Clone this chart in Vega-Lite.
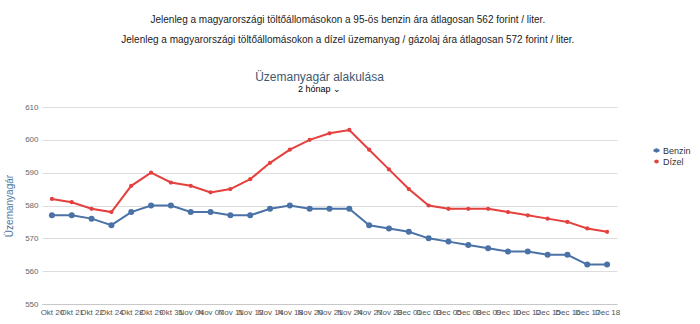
{
  "$schema": "https://vega.github.io/schema/vega-lite/v6.json",
  "background": "white",
  "padding": {"left": 4, "top": 15, "right": 0, "bottom": 0},
  "config": {"font": "Liberation Sans", "view": {"stroke": null}},
  "title": {
    "text": ["Jelenleg a magyarországi töltőállomásokon a 95-ös benzin ára átlagosan 562 forint / liter.", "Jelenleg a magyarországi töltőállomásokon a dízel üzemanyag / gázolaj ára átlagosan 572 forint / liter."],
    "font": "Liberation Sans", "fontSize": 10, "fontWeight": "normal", "color": "#222222",
    "lineHeight": 20, "anchor": "middle", "offset": 26
  },
  "vconcat": [
    {
      "width": 575,
      "height": 197,
      "title": {
        "text": "Üzemanyagár alakulása",
        "subtitle": "2 hónap ⌄",
        "font": "Liberation Sans", "fontSize": 12, "fontWeight": "normal", "color": "#3e576f",
        "subtitleFont": "Liberation Sans", "subtitleFontSize": 9, "subtitleColor": "#000000",
        "subtitlePadding": 1, "anchor": "middle", "dx": -10, "offset": 8
      },
      "data": {
        "values": [
          {"datum": "Okt 20", "tipus": "Benzin", "ar": 577}, {"datum": "Okt 21", "tipus": "Benzin", "ar": 577},
          {"datum": "Okt 22", "tipus": "Benzin", "ar": 576}, {"datum": "Okt 24", "tipus": "Benzin", "ar": 574},
          {"datum": "Okt 28", "tipus": "Benzin", "ar": 578}, {"datum": "Okt 29", "tipus": "Benzin", "ar": 580},
          {"datum": "Okt 31", "tipus": "Benzin", "ar": 580}, {"datum": "Nov 04", "tipus": "Benzin", "ar": 578},
          {"datum": "Nov 07", "tipus": "Benzin", "ar": 578}, {"datum": "Nov 11", "tipus": "Benzin", "ar": 577},
          {"datum": "Nov 12", "tipus": "Benzin", "ar": 577}, {"datum": "Nov 14", "tipus": "Benzin", "ar": 579},
          {"datum": "Nov 18", "tipus": "Benzin", "ar": 580}, {"datum": "Nov 20", "tipus": "Benzin", "ar": 579},
          {"datum": "Nov 21", "tipus": "Benzin", "ar": 579}, {"datum": "Nov 24", "tipus": "Benzin", "ar": 579},
          {"datum": "Nov 27", "tipus": "Benzin", "ar": 574}, {"datum": "Nov 28", "tipus": "Benzin", "ar": 573},
          {"datum": "Dec 01", "tipus": "Benzin", "ar": 572}, {"datum": "Dec 03", "tipus": "Benzin", "ar": 570},
          {"datum": "Dec 05", "tipus": "Benzin", "ar": 569}, {"datum": "Dec 08", "tipus": "Benzin", "ar": 568},
          {"datum": "Dec 09", "tipus": "Benzin", "ar": 567}, {"datum": "Dec 10", "tipus": "Benzin", "ar": 566},
          {"datum": "Dec 12", "tipus": "Benzin", "ar": 566}, {"datum": "Dec 15", "tipus": "Benzin", "ar": 565},
          {"datum": "Dec 16", "tipus": "Benzin", "ar": 565}, {"datum": "Dec 17", "tipus": "Benzin", "ar": 562},
          {"datum": "Dec 18", "tipus": "Benzin", "ar": 562},
          {"datum": "Okt 20", "tipus": "Dízel", "ar": 582}, {"datum": "Okt 21", "tipus": "Dízel", "ar": 581},
          {"datum": "Okt 22", "tipus": "Dízel", "ar": 579}, {"datum": "Okt 24", "tipus": "Dízel", "ar": 578},
          {"datum": "Okt 28", "tipus": "Dízel", "ar": 586}, {"datum": "Okt 29", "tipus": "Dízel", "ar": 590},
          {"datum": "Okt 31", "tipus": "Dízel", "ar": 587}, {"datum": "Nov 04", "tipus": "Dízel", "ar": 586},
          {"datum": "Nov 07", "tipus": "Dízel", "ar": 584}, {"datum": "Nov 11", "tipus": "Dízel", "ar": 585},
          {"datum": "Nov 12", "tipus": "Dízel", "ar": 588}, {"datum": "Nov 14", "tipus": "Dízel", "ar": 593},
          {"datum": "Nov 18", "tipus": "Dízel", "ar": 597}, {"datum": "Nov 20", "tipus": "Dízel", "ar": 600},
          {"datum": "Nov 21", "tipus": "Dízel", "ar": 602}, {"datum": "Nov 24", "tipus": "Dízel", "ar": 603},
          {"datum": "Nov 27", "tipus": "Dízel", "ar": 597}, {"datum": "Nov 28", "tipus": "Dízel", "ar": 591},
          {"datum": "Dec 01", "tipus": "Dízel", "ar": 585}, {"datum": "Dec 03", "tipus": "Dízel", "ar": 580},
          {"datum": "Dec 05", "tipus": "Dízel", "ar": 579}, {"datum": "Dec 08", "tipus": "Dízel", "ar": 579},
          {"datum": "Dec 09", "tipus": "Dízel", "ar": 579}, {"datum": "Dec 10", "tipus": "Dízel", "ar": 578},
          {"datum": "Dec 12", "tipus": "Dízel", "ar": 577}, {"datum": "Dec 15", "tipus": "Dízel", "ar": 576},
          {"datum": "Dec 16", "tipus": "Dízel", "ar": 575}, {"datum": "Dec 17", "tipus": "Dízel", "ar": 573},
          {"datum": "Dec 18", "tipus": "Dízel", "ar": 572}
        ]
      },
      "encoding": {
        "x": {
          "field": "datum", "type": "ordinal", "sort": null,
          "scale": {"type": "point", "padding": 0.5},
          "axis": {"title": null, "labelAngle": 0, "labelOverlap": false, "labelBound": false, "ticks": false,
                   "domain": true, "domainColor": "#c8c8c8", "grid": false, "labelFontSize": 8,
                   "labelColor": "#555555", "labelPadding": 4}
        },
        "y": {
          "field": "ar", "type": "quantitative",
          "scale": {"domain": [550, 610], "nice": false, "zero": false},
          "axis": {"title": "Üzemanyagár", "titleColor": "#4d759e", "titleFontWeight": "normal", "titleFontSize": 10,
                   "titlePadding": 10, "values": [550, 560, 570, 580, 590, 600, 610], "domain": false, "ticks": false,
                   "gridColor": "#dddddd", "labelFontSize": 8, "labelColor": "#666666", "labelPadding": 4}
        },
        "color": {
          "field": "tipus", "type": "nominal",
          "scale": {"domain": ["Benzin", "Dízel"], "range": ["#4a72a6", "#e4403e"]},
          "legend": {"title": null, "orient": "none", "legendX": 610, "legendY": 39, "labelFontSize": 9,
                     "labelColor": "#333333", "rowPadding": -4, "symbolSize": 100, "labelOffset": 2,
                     "symbolOpacity": 1,
                     "symbolType": "M-1,0L1,0M-0.3,0A0.3,0.3 0 1,0 0.3,0A0.3,0.3 0 1,0 -0.3,0",
                     "symbolStrokeWidth": 2.5}
        }
      },
      "layer": [
        {"mark": {"type": "line", "strokeWidth": 2}},
        {
          "mark": {"type": "point", "filled": true, "opacity": 1},
          "encoding": {
            "size": {"field": "tipus", "type": "nominal", "scale": {"domain": ["Benzin", "Dízel"], "range": [36, 18]}, "legend": null}
          }
        }
      ]
    }
  ]
}
